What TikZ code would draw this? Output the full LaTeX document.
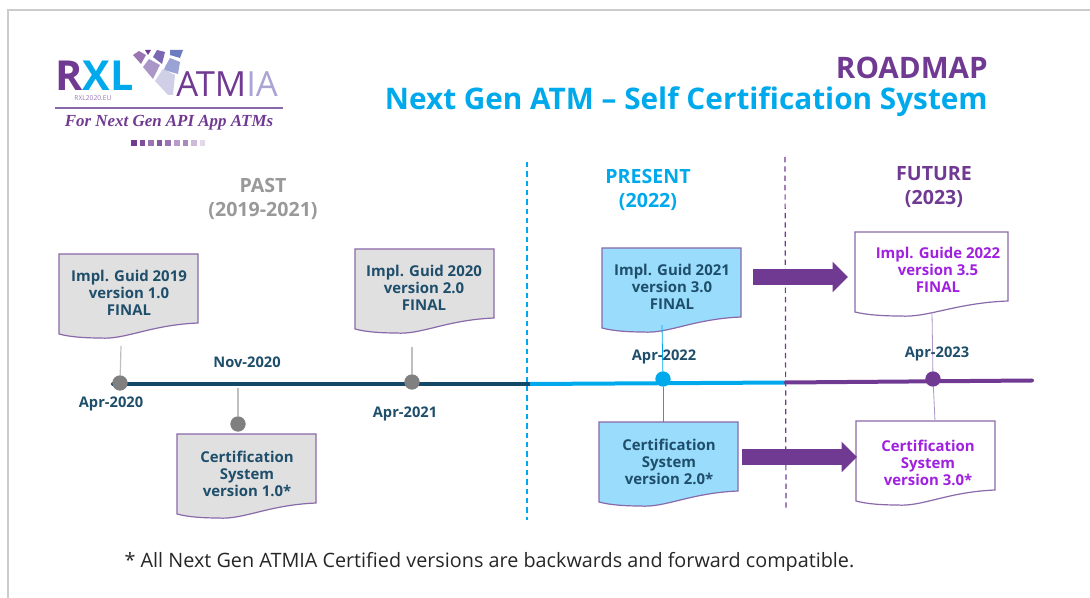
\documentclass[tikz,border=0pt]{standalone}
\usepackage{fontspec}
\setmainfont{Open Sans}
\newfontfamily\logoserif{Liberation Serif}
\usepackage{xcolor}
\usetikzlibrary{arrows.meta}

\definecolor{darkblue}{RGB}{31,78,107}
\definecolor{lineblue}{RGB}{20,72,104}
\definecolor{brightblue}{RGB}{0,169,236}
\definecolor{lightblue}{RGB}{153,220,251}
\definecolor{darkpurple}{RGB}{112,58,146}
\definecolor{magentatext}{RGB}{160,32,224}
\definecolor{edgepurple}{RGB}{138,105,170}
\definecolor{greybox}{RGB}{224,224,224}
\definecolor{greydot}{RGB}{128,128,128}
\definecolor{greytext}{RGB}{153,153,153}
\definecolor{lavender}{RGB}{170,165,212}

\tikzset{
  docpage/.pic={
    \draw [pic actions] (0,0) -- (139,0) -- (139,69) .. controls (91,71) and (66,86) .. (41,84) .. controls (26,84) and (11,83) .. (0,80) -- cycle ;
  },
  docbox/.style={draw=edgepurple,line width=0.9pt,yscale=-1},
  doctext/.style={align=center,font=\fontsize{11.2}{12.75}\selectfont\bfseries,inner sep=0.75pt},
  datetext/.style={font=\fontsize{11}{12}\selectfont\bfseries,text=darkblue,inner sep=0.75pt},
  headtext/.style={align=center,font=\fontsize{14.7}{18}\selectfont\bfseries,inner sep=0.75pt},
  stem/.style={line width=0.9pt},
  thinstem/.style={line width=0.6pt},
  dot/.style={circle,minimum size=11.5pt,inner sep=0pt},
  sepline/.style={dash pattern=on 4pt off 3pt,line width=0.9pt},
  bigarrow/.style={line width=11.5pt,draw=darkpurple,-{Triangle[length=11.5pt,width=22pt]}},
}

\begin{document}
\begin{tikzpicture}[x=0.75pt,y=0.75pt,yscale=-1,xscale=1]
    \useasboundingbox (0,0) rectangle (1090,598);
    %Slide frame
    \draw [line width=1pt,color=black!20] (8,598) -- (8,10) -- (1090,10) ;

    %Logo tiles
    \fill [color=darkpurple!70] (133,55) -- (139,51) -- (146,55) -- (141,64) -- cycle ;
    \fill [color=darkpurple] (145,50) -- (151,50) -- (148,55) -- cycle ;
    \fill [color={rgb, 255:red, 122; green, 104; blue, 180 }] (157,50) -- (165,52) -- (162,64) -- (153,57) -- cycle ;
    \fill [color={rgb, 255:red, 108; green, 124; blue, 192 }] (170,50) -- (183,50) -- (180,58) -- (170,55) -- cycle ;
    \fill [color={rgb, 255:red, 170; green, 151; blue, 200 }] (143,67) -- (149,59) -- (160,65) -- (153,79) -- cycle ;
    \fill [color={rgb, 255:red, 155; green, 162; blue, 212 }] (165,67) -- (170,58) -- (180,62) -- (178,74) -- (164,70) -- cycle ;
    \fill [color={rgb, 255:red, 208; green, 207; blue, 232 }] (155,81) -- (163,69) -- (175,75) -- (173,95) -- (168,95) -- cycle ;
    %Logo rule
    \draw [line width=1.1pt,color=edgepurple] (55,108) -- (283,108) ;
    %Logo squares
    \foreach \i/\c in {0/100,1/90,2/70,3/85,4/70,5/50,6/60,7/35,8/20} {
        \fill [color=darkpurple!\c] (131+\i*8.6,140.5) rectangle +(5.5,5.5) ;
    }

    %Timeline
    \coordinate (lineA) at (113,384);
    \coordinate (lineB) at (530,384);
    \coordinate (lineC) at (786,382.5);
    \coordinate (lineD) at (1032,380.5);
    \draw [line width=3pt,color=lineblue,line cap=round] (lineA) -- (lineB) ;
    \draw [line width=3pt,color=brightblue] (lineB) -- (lineC) ;
    \draw [line width=3pt,color=darkpurple,line cap=round] (lineC) -- (lineD) ;

    %Period separators
    \draw [sepline,draw=brightblue] (527,162) -- (527,520) ;
    \draw [sepline,draw=darkpurple] (785,157) -- (786,510) ;

    %Dots on the timeline
    \node [dot,fill=greydot] (dotA) at (120,383) {};
    \node [dot,fill=greydot] (dotB) at (238,424) {};
    \node [dot,fill=greydot] (dotC) at (412,382) {};
    \node [dot,fill=brightblue] (dotD) at (663,379) {};
    \node [dot,fill=darkpurple] (dotE) at (933,379) {};

    %Stems
    \coordinate (stemA) at (121,346);
    \coordinate (stemB) at (238,388);
    \coordinate (stemC) at (412,347);
    \coordinate (stemD) at (662,325);
    \coordinate (stemDD) at (663,422);
    \coordinate (stemE) at (932,312);
    \coordinate (stemEE) at (935,421);
    \draw [stem,color=black!25] (dotA) -- (stemA) ;
    \draw [stem,color=black!25] (dotB) -- (stemB) ;
    \draw [stem,color=black!25] (dotC) -- (stemC) ;

    %Documents
    \pic [docbox,fill=greybox] at (59,254) {docpage};
    \pic [docbox,fill=greybox] at (177,434) {docpage};
    \pic [docbox,fill=greybox] at (355,249) {docpage};
    \pic [docbox,fill=lightblue] at (602,248) {docpage};
    \pic [docbox,fill=lightblue] at (599,422) {docpage};
    \pic [docbox,fill=white,xscale=1.1] at (855,232) {docpage};
    \pic [docbox,fill=white] at (856,421) {docpage};
    \draw [thinstem,color=brightblue] (stemD) -- (dotD) ;
    \draw [thinstem,color=brightblue] (dotD) -- (stemDD) ;
    \draw [thinstem,color=edgepurple!70] (stemE) -- (dotE) ;
    \draw [thinstem,color=edgepurple!70] (dotE) -- (stemEE) ;

    %Big arrows
    \coordinate (arrowA) at (753,277);
    \coordinate (arrowB) at (848,277);
    \coordinate (arrowC) at (742,457);
    \coordinate (arrowD) at (857,457);
    \draw [bigarrow] (arrowA) -- (arrowB) ;
    \draw [bigarrow] (arrowC) -- (arrowD) ;

    % Text Node
    \node [anchor=west,inner sep=0pt,font=\fontsize{31}{31}\selectfont\bfseries] (logoRXL) at (55,76) {\textcolor{darkpurple}{R}\textcolor{brightblue}{XL}};
    \node [inner sep=0pt,font=\fontsize{5}{5}\selectfont,text=darkpurple!70] (logoURL) at (93,98.5) {RXL2020.EU};
    \node [anchor=west,inner sep=0pt,font=\fontsize{26}{26}\selectfont] (logoATMIA) at (176,84) {\textcolor{darkpurple}{ATM}\textcolor{lavender}{IA}};
    \node [inner sep=0pt,font=\fontsize{12.7}{13}\logoserif\bfseries\itshape,text=darkpurple] (logoTag) at (169,123) {For Next Gen API App ATMs};
    % Text Node
    \node [anchor=east,inner sep=0.75pt,font=\fontsize{22.2}{22}\selectfont\bfseries,text=darkpurple] (titleA) at (989,68) {ROADMAP};
    \node [anchor=east,inner sep=0.75pt,font=\fontsize{22.3}{22}\selectfont\bfseries,text=brightblue] (titleB) at (989,102) {Next Gen ATM – Self Certification System};
    % Text Node
    \node [headtext,text=greytext] (headPast) at (263,199) {PAST\\(2019-2021)};
    \node [headtext,text=brightblue] (headPresent) at (648,190) {PRESENT\\(2022)};
    \node [headtext,text=darkpurple] (headFuture) at (934,187.5) {FUTURE\\(2023)};
    % Text Node
    \node [doctext,text=darkblue] (guideA) at (129,293) {Impl. Guid 2019\\version 1.0\\FINAL};
    \node [doctext,text=darkblue] (certA) at (247,473.5) {Certification\\System\\version 1.0*};
    \node [doctext,text=darkblue] (guideB) at (424,288) {Impl. Guid 2020\\version 2.0\\FINAL};
    \node [doctext,text=darkblue] (guideC) at (672,286.5) {Impl. Guid 2021\\version 3.0\\FINAL};
    \node [doctext,text=darkblue] (certB) at (669,461.5) {Certification\\System\\version 2.0*};
    \node [doctext,text=magentatext] (guideD) at (938,269.5) {Impl. Guide 2022\\version 3.5\\FINAL};
    \node [doctext,text=magentatext] (certC) at (928,462.5) {Certification\\System\\version 3.0*};
    % Text Node
    \node [datetext] (dateA) at (111,404) {Apr-2020};
    \node [datetext] (dateB) at (247,362.5) {Nov-2020};
    \node [datetext] (dateC) at (405,413.5) {Apr-2021};
    \node [datetext] (dateD) at (664,357) {Apr-2022};
    \node [datetext] (dateE) at (937,354) {Apr-2023};
    % Text Node
    \node [inner sep=0.75pt,font=\fontsize{14.85}{15}\selectfont,text=black!85] (footNote) at (489.5,562) {* All Next Gen ATMIA Certified versions are backwards and forward compatible.};
    %Cut the slide off below the footnote
    \fill [white] (9,571) rectangle (1090,598) ;
\end{tikzpicture}
\end{document}
